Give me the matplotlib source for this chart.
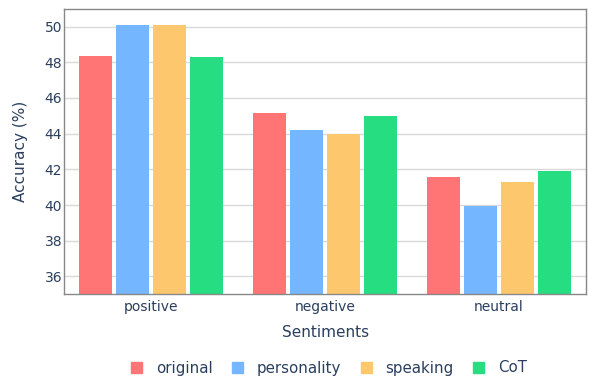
import numpy as np
import matplotlib.pyplot as plt
from matplotlib.patches import Patch
from matplotlib import rcParams

rcParams['font.family'] = 'DejaVu Sans'

categories = ['positive', 'negative', 'neutral']
methods = ['original', 'personality', 'speaking', 'CoT']
original = [48.34, 45.14, 41.55]
personality = [50.09, 44.21, 39.96]
speaking = [50.09, 43.97, 41.31]
cot = [48.30, 44.99, 41.89]
colors = ['#FF7474', '#74B6FF', '#FDC76D', '#26DE81']
txt = '#2a3f5f'

series = [original, personality, speaking, cot]
x = np.arange(len(categories))

fig = plt.figure(figsize=(5.89, 3.81), dpi=100)
ax = fig.add_axes([64.3 / 589, 1 - 294.3 / 381, (586 - 64.3) / 589, (294.3 - 8.7) / 381])

step = 0.2125
for i, (vals, c) in enumerate(zip(series, colors)):
    ax.bar(x + (i - 1.5) * step, vals, width=0.19, color=c, label=methods[i], zorder=2)

ax.set_xlim(-0.5, 2.5)
ax.set_ylim(35, 51)
ax.set_yticks(range(36, 51, 2))
ax.set_xticks(x)
ax.set_xticklabels(categories)
ax.grid(axis='y', color='#d9d9d9', lw=1, zorder=0)
ax.tick_params(length=0, labelsize=10, labelcolor=txt)
ax.tick_params(axis='y', pad=1.5)
ax.tick_params(axis='x', pad=4)
for s in ax.spines.values():
    s.set_color('#888888')
    s.set_linewidth(1)
ax.set_xlabel('Sentiments', fontsize=11, color=txt, labelpad=8)
ax.set_ylabel('Accuracy (%)', fontsize=11, color=txt, labelpad=12)

handles = [Patch(color=c) for c in colors]
fig.legend(handles, methods, loc='center', bbox_to_anchor=(329 / 589, 1 - 368 / 381), ncol=4,
           frameon=False, fontsize=10.8, labelcolor=txt, handlelength=0.73, handleheight=0.73,
           handletextpad=0.93, columnspacing=1.29)

fig.savefig('out.png', dpi=100)
